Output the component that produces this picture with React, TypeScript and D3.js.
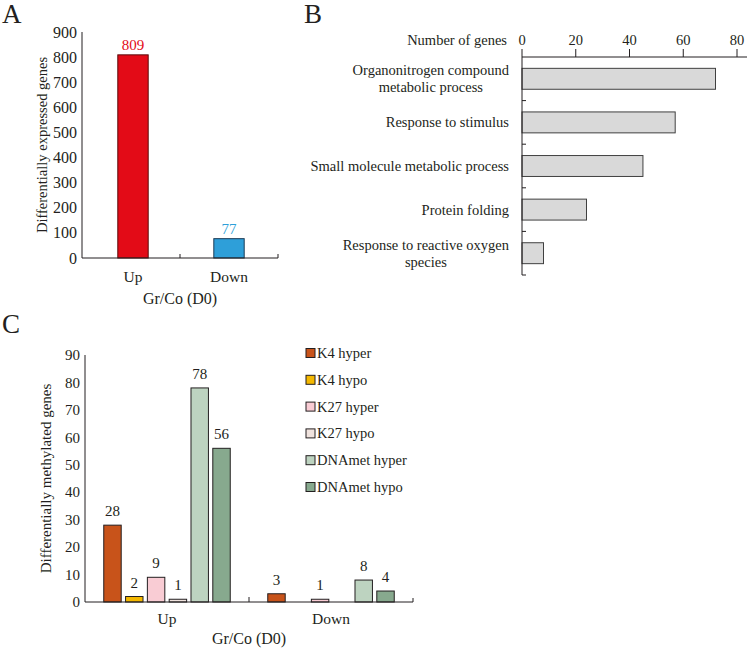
import React from "react";
import * as d3 from "d3";

// Panel A data
const degCategories = ["Up", "Down"];
const degValues = [809, 77];
const degColors = ["#E30B17", "#2E9FD9"];
const degTicks = [0, 100, 200, 300, 400, 500, 600, 700, 800, 900];

// Panel B data
const goTerms = [
  ["Organonitrogen compound", "metabolic process"],
  ["Response to stimulus"],
  ["Small molecule metabolic process"],
  ["Protein folding"],
  ["Response to reactive oxygen", "species"],
];
const goCounts = [72, 57, 45, 24, 8];
const goTicks = [0, 20, 40, 60, 80];

// Panel C data
const dmgCategories = ["Up", "Down"];
const dmgSeries = ["K4 hyper", "K4 hypo", "K27 hyper", "K27 hypo", "DNAmet hyper", "DNAmet hypo"];
const dmgUp = [28, 2, 9, 1, 78, 56];
const dmgDown = [3, 0, 1, 0, 8, 4];
const dmgColors = ["#C8531A", "#F4B800", "#F9CCD4", "#F0E3DE", "#BDD3C0", "#87A98E"];
const dmgTicks = [0, 10, 20, 30, 40, 50, 60, 70, 80, 90];

const FONT = "Liberation Serif, DejaVu Serif, serif";
const INK = "#231F20";

function measure(text: string, size: number): number {
  const c = document.createElement("canvas");
  const ctx = c.getContext("2d");
  if (!ctx) return text.length * size * 0.45;
  ctx.font = `${size}px "Liberation Serif", serif`;
  return ctx.measureText(text).width;
}

export default function App() {
  // ---------- Panel A ----------
  const yA = d3.scaleLinear().domain([0, 900]).range([258, 32]);
  const xA = d3.scaleBand<string>().domain(degCategories).range([82, 278]);
  const bwA = xA.bandwidth() * 0.31;

  // ---------- Panel B ----------
  const xB = d3.scaleLinear().domain([0, 80]).range([522, 737]);
  const yB = d3.scaleBand<number>().domain(goTerms.map((_, i) => i)).range([57, 275]);
  const bhB = yB.bandwidth() * 0.48;
  const labelRight = 509;
  const bFont = 14.5;

  // ---------- Panel C ----------
  const yC = d3.scaleLinear().domain([0, 90]).range([602, 355]);
  const xC = d3.scaleBand<string>().domain(dmgCategories).range([85, 413]);
  const xSub = d3
    .scaleBand<string>()
    .domain(dmgSeries)
    .range([0, xC.bandwidth()])
    .paddingInner(0.2)
    .paddingOuter(0.86);
  const dmgValues = [dmgUp, dmgDown];

  return (
    <svg
      width={750}
      height={653}
      style={{ display: "block", position: "absolute", left: 0, top: 0, fontFamily: FONT }}
    >
      <rect x={0} y={0} width={750} height={653} fill="#fff" />
      {/* ===== Panel A ===== */}
      <text x={2} y={23} fontSize={27} fill={INK}>A</text>
      <g fill={INK} fontSize={16}>
        {degTicks.map((t) => (
          <text key={t} x={77} y={yA(t)} dy="0.35em" textAnchor="end">{t}</text>
        ))}
      </g>
      <text
        transform={`translate(42,${(yA(0) + yA(900)) / 2}) rotate(-90)`}
        textAnchor="middle"
        fontSize={14.5}
        fill={INK}
        dy="0.35em"
      >
        Differentially expressed genes
      </text>
      {degCategories.map((c, i) => {
        const cx = (xA(c) as number) + xA.bandwidth() / 2 + (i === 0 ? 2 : 0);
        return (
          <g key={c}>
            <rect
              x={cx - bwA / 2}
              y={yA(degValues[i])}
              width={bwA}
              height={yA(0) - yA(degValues[i])}
              fill={degColors[i]}
              stroke={i === 0 ? "#5a0a0a" : "#1a3a55"}
              strokeWidth={1}
            />
            <text x={cx} y={yA(degValues[i]) - 5} textAnchor="middle" fontSize={15} fill={degColors[i]}>
              {degValues[i]}
            </text>
            <text x={cx} y={282} textAnchor="middle" fontSize={15.5} fill={INK}>{c}</text>
          </g>
        );
      })}
      <line x1={82} x2={82} y1={yA(900)} y2={yA(0)} stroke={INK} strokeWidth={1} />
      <line x1={82} x2={278} y1={yA(0)} y2={yA(0)} stroke={INK} strokeWidth={1} />
      {degCategories.slice(1).map((c) => (
        <line key={c} x1={xA(c) as number} x2={xA(c) as number} y1={yA(0)} y2={yA(0) - 4} stroke={INK} />
      ))}
      <line x1={278} x2={278} y1={yA(0)} y2={yA(0) - 4} stroke={INK} />
      <text x={(82 + 278) / 2} y={304} textAnchor="middle" fontSize={16} fill={INK}>Gr/Co (D0)</text>

      {/* ===== Panel B ===== */}
      <text x={304} y={23} fontSize={27} fill={INK}>B</text>
      <text x={507} y={45} textAnchor="end" fontSize={bFont} fill={INK}>Number of genes</text>
      {goTicks.map((t) => (
        <g key={t}>
          <text x={xB(t)} y={45} textAnchor="middle" fontSize={bFont} fill={INK}>{t}</text>
          <line x1={xB(t)} x2={xB(t)} y1={57} y2={49} stroke={INK} />
        </g>
      ))}
      {goTerms.map((lines, i) => {
        const y0 = yB(i) as number;
        const cy = y0 + yB.bandwidth() / 2;
        const maxW = Math.max(...lines.map((l) => measure(l, bFont)));
        const cx = labelRight - maxW / 2;
        return (
          <g key={i}>
            <rect
              x={xB(0)}
              y={cy - bhB / 2}
              width={xB(goCounts[i]) - xB(0)}
              height={bhB}
              fill="#D9D9D9"
              stroke="#404040"
              strokeWidth={1}
            />
            {lines.map((l, j) => (
              <text
                key={j}
                x={cx}
                y={cy + 5 + (j - (lines.length - 1) / 2) * 17}
                textAnchor="middle"
                fontSize={bFont}
                fill={INK}
              >
                {l}
              </text>
            ))}
            <line x1={522} x2={526} y1={y0 + yB.bandwidth()} y2={y0 + yB.bandwidth()} stroke={INK} />
          </g>
        );
      })}
      <line x1={522} x2={747} y1={57} y2={57} stroke={INK} strokeWidth={1} />
      <line x1={522} x2={522} y1={57} y2={275} stroke={INK} strokeWidth={1} />

      {/* ===== Panel C ===== */}
      <text x={2} y={333} fontSize={27} fill={INK}>C</text>
      <g fill={INK} fontSize={15}>
        {dmgTicks.map((t) => (
          <text key={t} x={80} y={yC(t)} dy="0.35em" textAnchor="end">{t}</text>
        ))}
      </g>
      <text
        transform={`translate(46,${(yC(0) + yC(90)) / 2}) rotate(-90)`}
        textAnchor="middle"
        fontSize={15}
        fill={INK}
        dy="0.35em"
      >
        Differentially methylated genes
      </text>
      {dmgCategories.map((c, ci) => (
        <g key={c}>
          {dmgSeries.map((s, si) => {
            const v = dmgValues[ci][si];
            if (!v) return null;
            const x = (xC(c) as number) + (xSub(s) as number);
            return (
              <g key={s}>
                <rect
                  x={x}
                  y={yC(v)}
                  width={xSub.bandwidth()}
                  height={yC(0) - yC(v)}
                  fill={dmgColors[si]}
                  stroke={INK}
                  strokeWidth={1}
                />
                <text x={x + xSub.bandwidth() / 2} y={yC(v) - 9} textAnchor="middle" fontSize={15} fill={INK}>
                  {v}
                </text>
              </g>
            );
          })}
          <text x={(xC(c) as number) + xC.bandwidth() / 2} y={624} textAnchor="middle" fontSize={15.5} fill={INK}>
            {c}
          </text>
        </g>
      ))}
      <line x1={85} x2={85} y1={yC(90)} y2={yC(0)} stroke={INK} strokeWidth={1} />
      <line x1={85} x2={413} y1={yC(0)} y2={yC(0)} stroke={INK} strokeWidth={1} />
      {dmgCategories.slice(1).map((c) => (
        <line key={c} x1={xC(c) as number} x2={xC(c) as number} y1={yC(0)} y2={yC(0) - 5} stroke={INK} />
      ))}
      <line x1={413} x2={413} y1={yC(0)} y2={yC(0) - 4} stroke={INK} />
      <text x={249} y={644} textAnchor="middle" fontSize={16} fill={INK}>Gr/Co (D0)</text>

      {/* Legend */}
      {dmgSeries.map((s, i) => {
        const cy = 353 + i * 26.8;
        return (
          <g key={s}>
            <rect x={306} y={cy - 4.5} width={9} height={9} fill={dmgColors[i]} stroke={INK} strokeWidth={1} />
            <text x={317} y={cy + 5} fontSize={14.5} fill={INK}>{s}</text>
          </g>
        );
      })}
    </svg>
  );
}
